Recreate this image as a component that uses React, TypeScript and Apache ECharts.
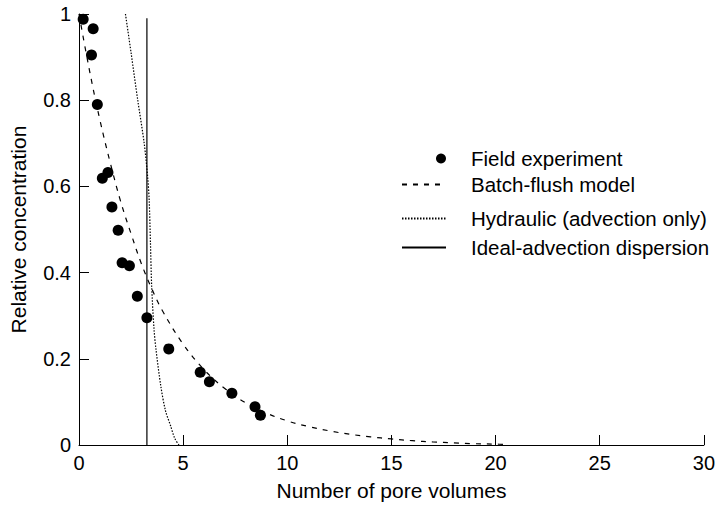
import React, { useEffect, useRef } from "react";
import * as echarts from "echarts";

// Field experiment points: [pore volumes, relative concentration]
const fieldX = [0.2, 0.68, 0.6, 0.88, 1.12, 1.39, 1.58, 1.88, 2.07, 2.42, 2.8, 3.26, 4.31, 5.82, 6.26, 7.34, 8.45, 8.71];
const fieldY = [0.988, 0.966, 0.905, 0.79, 0.619, 0.632, 0.552, 0.498, 0.423, 0.416, 0.345, 0.295, 0.223, 0.169, 0.147, 0.12, 0.089, 0.069];

// Batch-flush model curve
const batchX = [0, 0.5, 1, 1.5, 2, 2.5, 3, 3.5, 4, 5, 6, 7, 8, 9, 10, 11, 12, 13, 14, 15, 16, 17, 18, 19, 20, 20.5];
const batchY = [1.0, 0.87, 0.755, 0.655, 0.565, 0.49, 0.42, 0.362, 0.312, 0.234, 0.175, 0.131, 0.098, 0.074, 0.056, 0.043, 0.033, 0.025, 0.019, 0.014, 0.01, 0.007, 0.005, 0.003, 0.002, 0.001];

// Hydraulic (advection only) curve
const hydX = [2.23, 2.5, 2.82, 3.13, 3.3, 3.37, 3.43, 3.49, 3.6, 3.7, 3.93, 4.15, 4.4, 4.6, 4.8];
const hydY = [1.0, 0.91, 0.8, 0.7, 0.62, 0.567, 0.47, 0.367, 0.27, 0.22, 0.136, 0.08, 0.044, 0.015, 0.0];

// Ideal-advection dispersion (vertical front)
const idealX = [3.26, 3.26];
const idealY = [0, 0.99];

const xTicks = { min: 0, max: 30, interval: 5 };
const yTicks = { min: 0, max: 1, interval: 0.2 };

const names = ["Field experiment", "Batch-flush model", "Hydraulic (advection only)", "Ideal-advection dispersion"];

const zip = (xs: number[], ys: number[]) => xs.map((x, i) => [x, ys[i]]);

const FONT = "Liberation Sans, Arial, Helvetica, sans-serif";

export default function App() {
  const ref = useRef<HTMLDivElement>(null);
  useEffect(() => {
    if (!ref.current) return;
    const chart = echarts.init(ref.current, undefined, { renderer: "svg" });
    const legendText = { color: "#000", fontSize: 20.5, fontFamily: FONT, lineHeight: 20, padding: [0, 0, 0, 20] };
    const legendBase = {
      orient: "horizontal",
      padding: 0,
      selectedMode: false,
      textStyle: legendText,
    };
    chart.setOption({
      animation: false,
      backgroundColor: "#fff",
      grid: { left: 77, right: 10, top: 14, bottom: 60 },
      xAxis: {
        type: "value",
        min: xTicks.min,
        max: xTicks.max,
        interval: xTicks.interval,
        name: "Number of pore volumes",
        nameLocation: "middle",
        nameGap: 35,
        nameTextStyle: { color: "#000", fontSize: 21, fontFamily: FONT },
        axisLine: { lineStyle: { color: "#000", width: 1 } },
        axisTick: { inside: true, length: 10, lineStyle: { color: "#000" } },
        axisLabel: { color: "#000", fontSize: 20, fontFamily: FONT, margin: 8 },
        splitLine: { show: false },
      },
      yAxis: {
        type: "value",
        min: yTicks.min,
        max: yTicks.max,
        interval: yTicks.interval,
        name: "Relative concentration",
        nameLocation: "middle",
        nameGap: 50,
        nameTextStyle: { color: "#000", fontSize: 21, fontFamily: FONT },
        axisLine: { show: true, lineStyle: { color: "#000", width: 1 } },
        axisTick: { show: true, inside: true, length: 10, lineStyle: { color: "#000" } },
        axisLabel: { color: "#000", fontSize: 20, fontFamily: FONT, margin: 8 },
        splitLine: { show: false },
      },
      legend: [
        { ...legendBase, data: [names[0]], left: 436, top: 148, itemWidth: 10, itemHeight: 10, itemStyle: { opacity: 1 } },
        { ...legendBase, data: [names[1]], left: 401, top: 174, itemWidth: 44, itemHeight: 10, itemStyle: { opacity: 0 } },
        { ...legendBase, data: [names[2]], left: 401, top: 208, itemWidth: 44, itemHeight: 10, itemStyle: { opacity: 0 } },
        { ...legendBase, data: [names[3]], left: 401, top: 237, itemWidth: 44, itemHeight: 10, itemStyle: { opacity: 0 } },
      ],
      series: [
        {
          name: names[0],
          type: "scatter",
          data: zip(fieldX, fieldY),
          symbol: "circle",
          symbolSize: 11,
          itemStyle: { color: "#000", opacity: 1 },
          z: 5,
        },
        {
          name: names[1],
          type: "line",
          data: zip(batchX, batchY),
          symbol: "none",
          smooth: 0.4,
          lineStyle: { color: "#000", width: 1.2, type: [5, 6] },
          itemStyle: { color: "#000" },
        },
        {
          name: names[2],
          type: "line",
          data: zip(hydX, hydY),
          symbol: "none",
          smooth: 0.3,
          lineStyle: { color: "#000", width: 1.2, type: [1.5, 1.5] },
          itemStyle: { color: "#000" },
        },
        {
          name: names[3],
          type: "line",
          data: zip(idealX, idealY),
          symbol: "none",
          lineStyle: { color: "#000", width: 1.2, type: "solid" },
          itemStyle: { color: "#000" },
        },
      ],
    });
    return () => chart.dispose();
  }, []);
  return (
    <div
      ref={ref}
      style={{ position: "fixed", left: 0, top: 0, width: 718, height: 506, background: "#fff" }}
    />
  );
}
